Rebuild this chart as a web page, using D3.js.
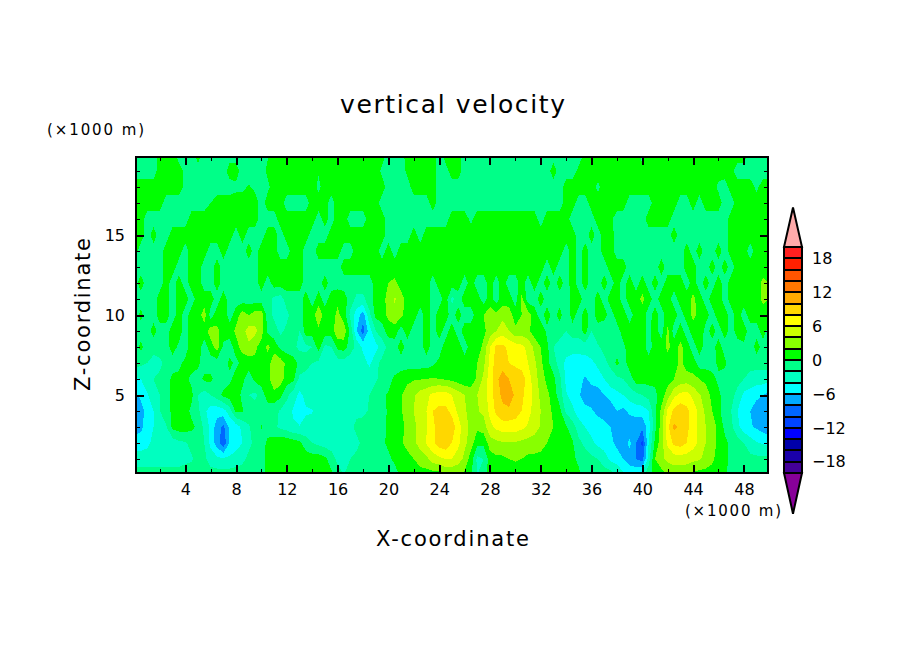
<!DOCTYPE html>
<html>
<head>
<meta charset="utf-8">
<title>vertical velocity</title>
<script src="https://cdnjs.cloudflare.com/ajax/libs/d3/7.8.5/d3.min.js"></script>
<style>
    body { margin: 0; background: #fff; }
    text { font-family: "DejaVu Sans", sans-serif; fill: #000; }
</style>
</head>
<body>
<svg id="chart" width="904" height="654"></svg>
<script>
// grid positions in km
var xKm = d3.range(0, 50.5, 0.5);
var zKm = d3.range(0, 21);

// contour levels and fill colours, one colour per band, lowest band first
var levels = [-20,-18,-16,-14,-12,-10,-8,-6,-4,-2,0,2,4,6,8,10,12,14,16,18,20];
var bandColors = ['#880099','#440099','#1a00aa','#0000aa','#0000ff','#0044ff','#0066ff','#00aaff','#00ffff','#00ffc0','#00ff88',
    '#00ff00','#88ff00','#ccff00','#ffff00','#ffd700','#ffaa00','#ff7700','#ff5500','#ff2000','#ff2020','#ffaaaa'];

var xMajor = [4,8,12,16,20,24,28,32,36,40,44,48];
var xMinor = [2,6,10,14,18,22,26,30,34,38,42,46];
var zMajor = [5,10,15];
var zMinor = [1,2,3,4,6,7,8,9,11,12,13,14,16,17,18,19];
var barLabels = [18,12,6,0,-6,-12,-18];

// w (m/s), one row per km of height, bottom row first.
// Each row has ten groups of 5 km at 0.5 km steps, then the value at x=50
var w = [
 [-1,-1,-1,-1,-1,-1,-1,-1,-1,-1, -1,-1,-1,-1,-1,-1,-1,-1,-1,-1, -1,0.5,1,1,1,1,1,1,1,1, 1,0.5,-1,-2,-1,-1,-1,-1,-1,-1, -1,-1,0.5,1,1,1,1,1,1,2, 2,2,1.5,0.5,-2,-1,1,1,1,1, 1,1,1,1,1,1,1,1,1,1, 0.5,-1,-1,-1,-1,-1,-2,-3.5,-4.5,-4, -3,-0.5,0.5,1,2,2.5,2.5,2,1.5,1, 1,1,1,0.5,-1,-1,-1,-1,-1,-1, -1],
 [-3,-3,-3,-3,-3,-3,-3,-3,-2.5,-2.2, -1.5,-1.5,-3,-3.5,-3.8,-3.5,-3,-2.5,-1.5,-1, -0.5,0.5,1,1,1,1,1,1,1,1, 0.5,-1,-2.5,-2.5,-2,-1.5,-1,-1,-1,-1, -0.5,0.5,1,1.5,2,3,3.5,5,5.5,6, 6,5,3.5,1,-2.5,-2,1,1.5,1.5,2, 2.2,2,1.5,1.5,1.5,1.5,1,1,1,0.5, -0.5,-1,-1.5,-2,-3,-4.5,-5,-6,-7,-8, -9,-3,2,3.5,4.5,5,5,5,4.5,4.2, 3.5,2.5,1,0.5,-0.5,-1,-1,-1.5,-1.5,-1.5, -1.5],
 [-5,-5,-4.5,-3.5,-3,-3,-3,-2.5,-2.2,-1.5, -1,-2,-4.5,-7,-9.5,-5.8,-5,-4,-2.5,-1.5, -1,0.5,1,1.5,1.5,1,0.5,-1,-2,-2.5, -3,-3,-3,-3.5,-3.5,-2.5,-1.5,-1.2,-1,-0.5, 0.5,1.2,1.8,2.5,3.5,4.8,6.2,7.5,9,9.5, 8,6.5,4.5,3,0.5,0.5,3,3.5,3.8,3.8, 3.8,3.5,3.2,3,2.6,2,1,0.8,0.5,0.2, -1.5,-2.5,-3.5,-4.5,-5,-5.5,-6.5,-7,-5.5,-8, -10.5,-4,0.5,3.2,6.5,8.5,9,8,7,5.5, 4,3,1.5,0.5,-0.5,-1,-2,-3,-3.8,-4.2, -4.5],
 [-7,-6.5,-5,-4,-3,-2.2,0.5,1,1,0.5, -0.5,-2.5,-4.5,-7,-8.5,-5.5,-5,-3.5,-2.2,-1.2, 0.2,-1,-1.5,-2.5,-3,-3.8,-3.9,-3.5,-3.5,-3, -3,-3,-3,-3,-2.5,-1.5,-1.2,-1.2,-1,-0.6, 0.3,0.8,1.5,2.5,3.5,4.8,5.8,7.5,9,9.9, 9,7,4.8,3.5,2.5,3,5.5,6.5,7,7, 7,6.5,5.8,5,3.8,3,2,0.5,0.2,-1, -3,-4,-4.8,-5,-5.2,-6,-7.5,-7.5,-7.5,-7.5, -7.5,-5,-0.5,3,7.5,10.5,9.5,8.5,7,5.5, 4,3,1.5,-0.5,-1.5,-3.5,-5,-5.8,-6.3,-7, -7.5],
 [-7.5,-7,-5,-4,-2,-1,0.5,1.2,0.8,-0.5, -1.5,-3.5,-5,-5.2,-4.8,-3,0.5,0.2,-1,-1, -1,-1,-1.5,-2.2,-3,-4.2,-5,-4.2,-4.1,-3, -3,-3,-3,-3,-2.8,-2.5,-2.5,-1.8,-1,-0.5, 0.2,1,1.8,3,4,5,6,8,8.5,8.5, 7.5,5.5,4.2,3.5,3.8,4.5,6.5,8.5,9.5,9.5, 9,8,6.5,5.5,4,3,1.5,0.5,-2.5,-3.5, -5,-5.5,-5.8,-6.5,-7.2,-7.5,-6,-6.5,-5.5,-5, -5,-4,-0.5,2.5,6.5,8.5,9.5,8.5,7,5.5, 3.5,2,0.5,-1,-2,-4,-5,-6,-7,-7.5, -7.5],
 [-6.5,-5.5,-4.2,-3,-2,-1,0.5,1,1,0.5, -2,-3,-2,-1,0.5,1,1,-0.5,-2,-2.5, -1,1,1.5,0.5,-1.5,-3,-4.5,-3.5,-3,-3, -3,-3,-3,-3,-3,-3,-3,-2,-1.2,-0.5, 0.3,1,1.8,3,3.8,4.8,5.5,6.5,7,7, 6,5,4,3.5,4,5,7,9,10.5,11.5, 9.5,8.5,7,5.5,3.5,2.5,1,-1,-3.8,-4.8, -5.8,-6.8,-6.8,-7,-6,-5,-4.5,-4,-3,-2.5, -2,-1.2,-0.5,1,3,5.5,6.5,6.8,5.5,4.2, 3,1.5,0.5,-1,-1.5,-2.5,-4.5,-5,-5.5,-6, -6.5],
 [-4.5,-4,-3,-2,-1.5,-1,0.5,0.5,0.5,-0.5, -1,0.5,0.5,-1,-1,-0.5,1,0.5,-1,0.5, 1,1.5,3.2,3,1,0.5,-2.5,-3,-3,-3, -3,-3,-3,-3,-3,-3,-3,-2.5,-2.2,-1.5, -1,0.5,1,1.5,1.8,1.9,2,2.2,2,1.8, 1.5,1,0.5,0.5,2.5,4.5,7,9.5,11,10, 9.5,9.2,7,5,3,1.5,0.5,-1.5,-4.5,-5, -5.5,-6.2,-5.5,-5,-4,-3,-2.5,-2,-1,1, 0.8,0.8,0.5,0.8,1.2,2,2.8,3,2.5,2, 1.5,0.8,-0.5,-1,-1.2,-1.5,-2,-2.5,-3,-3, -3.5],
 [-1,-1.5,-2,-2.5,-2.5,-1.2,-1,-0.5,0.5,1, 0.5,-1,-1,-1,-1,0.5,-0.5,0.5,1,1.5, 1.5,1,3.5,3,1.5,1,-0.5,-1,-2,-2.5, -2.5,-3,-3,-3,-3.2,-3.5,-3,-4.5,-2.5,-1.5, -1,-1.5,-1,-1,-1,-1,-1,-0.5,0.5,1, 1,1,1,1.5,2,3.5,6.5,9,9,8, 7.5,7,6,4.5,2.5,0.5,-1,-3,-4.5,-5, -5.2,-5,-4.5,-3.5,-2.5,-1.5,0.5,-1,1,1, 1,1,1.5,1,1,1,2.5,1,1,-1, -1,-1,0.5,0.5,-1.5,-1.5,-2,-1.5,-1.2,-1.2, -1],
 [-1,0.5,-1,-1.5,-1,-1,1,-0.5,-1,1, 1,-1,1,3,-0.5,-1,1,3,3.5,2.5, 1,2.5,1,-0.5,-1,-1.5,-2.5,-2.5,-2,1, -2.5,-2,0.5,1,-1,-2.5,-4.5,-4.6,-4.8,-3, -1.5,-1,1,-1,-1,-1,1,-1,-1,1, 1,1,-1,1,1,2.5,6,8.5,8.5,7.5, 7,6.5,5.5,3.5,2,0.5,-2,-2.5,-3,-3.2, -3,-3,-2.5,-2.2,-1.5,-1,-1,-0.5,1,1, 1,-1,1,1,2.5,1,2.5,1,-1,1, -1,-1,1,-1,-1,-1,-0.5,-1.5,1,-1, -1],
 [1,-1,-1,1,-1,-1,1,1,-1,1, 1.5,1,3,2.5,1,1,2.5,3.2,5,4.5, 3,-0.5,-1,-2.5,-1.5,-1,-2,1,1,1.5, 1,1,3.5,3.2,-0.5,-6,-9,-5,-2,-1, 1,1,-1,1,-1,-1,1,-1,1,-1, 1,-1,1,1,1,1.5,3,4,5,4, 2.5,3,2.5,1,1.5,-0.5,-1,-1.5,-2,-1, -1.2,1,-2,-1,-2,-1,-1,1,1,1, 1,-0.5,1,-1,2.5,-1,1,-1,1,2, -1,1,-1,1,-1,1,1,-1,-1,1, -1],
 [-1,0.5,-1,-1,1,1,-1,1,-1,1, 1,3,-1,1,1.5,-1,1,3,2,3, 3.2,-1,-2.5,-4,-2.5,-1,-1,1,1,3.5, 1,1,2.5,1,-2.5,-5,-7,-2.5,0.5,1, 2.5,3.5,2.5,1,1,-1,1,-1,1,1, -1,1,-1,-1,1,2,3,2.5,3.5,3, 1,2,3,1,-1,1,-1,1,-2,1, -1,1,-1,1,1,-1,1,1,-1,1, 1,-1,1,-1,1,1,-1,1,2.5,1.5, 1,-1,1,1,-1,1,-1,1,1,1, 1],
 [-1,-1,-1,-1,1,1,-1,1,1,-1, 1,1,1,-1,1,-1,-1,-1,-1,-1, -1,-1,-2.5,-3,-1,-1,-1,1,-1,1, -1,1,1.5,1,-1,-2.5,-2.5,-1,1,1, 3,4.2,3,1,1,1,1,-1,-1,1, -2.5,-1,1,1,1,-1,1,-1,1,1, -1,2.5,-1,-1,1,-1,-1,-1,-2,1, 1,-1,-1,1,-1,1,1,-1,1,1, 2.5,1,-1,1,1,-1,1,1,2.5,1, -1,1,1,-1,1,1,1,1,1,2.5, 2],
 [-1,1,-1,-1,-1,1,-1,1,-1,1, 1,-1,-1,1,-1,-1,-1,-1,-1,-1, 1,-1,1,1,1,1,1,-1,-1,-1, 1,-1,-1,-1,-1,-1,-1,-1,1,1, 2,2.5,1,2,1,1,1,-1,1,1, 1,1,-1,1,-1,-1,1,-1,1,-1, -1,1,-1,1,-1,1,-1,1,-1,1, -1,1,-1,-1,1,-1,1,-1,1,-1, 1,-1,1,-1,1,1,1,-1,1,-1, 1,-1,1,-1,1,1,2,1,1,2.5, 2],
 [-1,-1,-1,-1,-1,1,1,-1,-1,1, 1,-1,-1,1,-1,-1,-1,-1,-1,-1, 1,1,1,1,1,1,1,-1,-1,-1, -1,-1,-1,1,1,1,1,1,2,1, 1,1,1,1,1,1,1,1,1,1, 1,1,1,1,1,1,1,1,1,1, 1,1,1,1,1,-1,1,-1,-1,1, -1,1,-1,-1,-1,1,1,1,-1,-1, -1,-1,-1,1,-1,-1,-1,1,1,-1, -1,1,-1,1,-1,1,1,1,1,1, 1],
 [1,-1,-1,-1,-1,1,1,1,-1,1, 1,1,-1,-1,1,-1,-1,-1,1,-1, 1,1,1,-1,-1,1,1,-1,-1,1, 1,1,1,-1,-1,1,1,1,1,-1, 1,-1,1,1,1,1,1,1,1,1, 1,1,1,1,1,1,1,1,1,1, 1,1,1,1,1,1,1,1,-1,1, -1,1,-1,-1,1,1,-1,-1,-1,-1, -1,-1,-1,-1,-1,-1,-1,1,-1,1, -1,-1,1,-1,1,1,1,-1,1,1, 1],
 [1,1,-1,1,-1,-1,1,1,1,1, 1,1,1,1,1,1,-1,1,-1,-1, -1,1,1,-1,1,1,1,1,-1,-1, -1,1,1,1,1,1,1,1,1,1, -1,-1,-1,-1,1,-1,1,1,1,1, 1,1,1,1,1,1,1,1,1,1, 1,1,1,1,1,1,1,1,1,1, -1,-1,1,-1,1,1,-1,-1,-1,-1, -1,-1,-1,-1,-1,1,-1,-1,-1,-1, -1,-1,-1,-1,1,1,1,1,1,1, 1],
 [1,1,-1,-1,-1,-1,-1,-1,-1,1, 1,1,1,1,1,1,1,1,1,1, -1,-1,-1,1,1,1,1,1,1,-1, 1,-1,1,1,-1,-1,-1,1,1,1, -1,-1,-1,-1,-1,-1,-1,-1,-1,-1, 1,1,1,-0.5,1,1,1,1,1,1, 1,1,1,1,-1,1,1,1,1,-1, -1,-1,-1,1,1,0.5,-1,-1,-1,-1, -1,1,1,1,1,-1,-1,-1,-1,-1, -1,-1,-1,-1,1,1,1,1,1,1, 1],
 [1,1,1,1,1,-1,-1,-1,-1,-1, -1,-1,0,1,1,1,1,1,1,1, -1,1,1,1,-1,-1,-1,-1,1,1, 1,-1,1,1,1,1,1,1,1,-1, -1,-1,-1,-1,-1,-1,-1,1,-1,-1, -1,-1,-1,-1,-1,-1,-1,-1,-1,-1, -1,-1,-1,-1,-1,-1,-1,-1,1,1, -1,-1,1,1,1,1,1,1,-1,-1, -1,-1,1,1,1,1,-1,-1,1,-1, 1,1,1,-1,-1,1,1,1,1,1, 1],
 [1,1,1,1,1,1,1,1,-0.5,-1, -1,-1,-1,-1,-1,-1,-0.5,-0.5,0.2,-0.5, -0.5,-0.5,1,1,1,1,1,1,1,-0.5, 1,1,1,1,1,1,1,1,1,1, -1,-1,-1,-1,1,1,1,1,-1,-1, -1,-1,-1,-1,-1,-1,-1,-1,-1,-1, -1,-1,-1,-1,-1,-1,-1,-1,1,1, 1,1,1,-0.5,1,1,1,1,1,1, 1,1,1,1,1,1,1,1,1,1, 1,1,-0.5,-1,1,1,1,1,-0.5,1, 1],
 [-1,-1,-1,-1,1,1,1,1,-0.5,-1, -1,-1,-1,-1,-1,1,1,-1,-1,-1, -1,0.5,1,1,1,1,1,1,1,0.2, 1,1,1,1,1,1,1,1,1,-0.5, -0.5,-1,-1,0.5,1,1,1,1,-1,-1, 1,1,-1,-1,-1,-1,-1,-1,-1,-1, -1,-1,-1,-1,-1,-1,1,-1,-1,-1, 0.5,1,1,1,1,1,1,1,1,1, 1,1,1,1,1,1,1,1,1,1, 1,1,1,1,0.5,-1,-1,-1,-1,-1, -1],
 [-1,-1,-1,-1,1,1,1,-1,-1,-1, 1,-1,-1,-1,-1,-1,-1,-1,-1,-1, -1,-0.2,1,1,1,1,1,1,1,1, 1,1,1,1,1,1,1,1,1,1, -1,-1,-1,1,1,1,1,1,-1,1, 1,1,-1,-1,-1,-1,-1,-1,-1,-1, -1,-1,-1,-1,-1,-1,-1,-1,-1,-1, -1,0.5,1,1,1,1,1,1,1,1, -1,1,1,1,1,1,1,1,1,1, 1,1,1,1,1,1,1,-1,-1,-1, -1]
];

var svg = d3.select('#chart');
svg.append('rect').attr('width', 904).attr('height', 654).attr('fill', '#fff');

var margin = {left: 136, right: 768, top: 157, bottom: 473};
var xScale = d3.scaleLinear().domain([0.12, 49.9]).range([margin.left, margin.right]);
var zScale = d3.scaleLinear().domain([0.125, 19.875]).range([margin.bottom, margin.top]);

// band colour for a contour level: the band above it
var bandColor = d3.scaleThreshold().domain(levels).range(bandColors);

svg.append('clipPath').attr('id', 'plotClip').append('rect')
    .attr('x', margin.left).attr('y', margin.top)
    .attr('width', margin.right - margin.left).attr('height', margin.bottom - margin.top);

var flat = [];
zKm.slice().reverse().forEach(function(z) { flat = flat.concat(w[z]); });

var contours = d3.contours().size([xKm.length, zKm.length]).thresholds(levels)(flat);

//Grid cells from d3.contours are centred on half integers, and row 0 is the top one
var path = d3.geoPath(d3.geoTransform({
    point: function(gx, gy) {
        this.stream.point(xScale((gx - 0.5) * 0.5), zScale(zKm.length - 0.5 - gy));
    }
}));

var plot = svg.append('g').attr('clip-path', 'url(#plotClip)');
plot.append('rect')
    .attr('x', margin.left).attr('y', margin.top)
    .attr('width', margin.right - margin.left).attr('height', margin.bottom - margin.top)
    .attr('fill', bandColors[0]);
plot.selectAll('path')
    .data(contours)
    .enter().append('path')
    .attr('d', path)
    .attr('fill', function(d) { return bandColor(d.value); })
    .attr('shape-rendering', 'crispEdges');

function styleAxis(g, labelled) {
    g.select('.domain').remove();
    g.selectAll('line').attr('stroke', '#000');
    g.selectAll('text').style('font-size', labelled ? '16px' : '0px');
    g.attr('font-family', null).attr('font-size', null);
}

function drawTicks(axis, x, y, width, labelled) {
    var g = svg.append('g').attr('transform', 'translate(' + x + ',' + y + ')').call(axis);
    styleAxis(g, labelled);
    g.selectAll('line').attr('stroke-width', width).attr('shape-rendering', 'crispEdges');
}

var blank = function() { return ''; };

// NCAR style: ticks point into the plot on all four sides
drawTicks(d3.axisBottom(xScale).tickValues(xMajor).tickSize(-8).tickPadding(11).tickFormat(d3.format('d')), 0, margin.bottom, 2, true);
drawTicks(d3.axisBottom(xScale).tickValues(xMinor).tickSize(-4).tickFormat(blank), 0, margin.bottom, 1, false);
drawTicks(d3.axisTop(xScale).tickValues(xMajor).tickSize(-8).tickFormat(blank), 0, margin.top, 2, false);
drawTicks(d3.axisTop(xScale).tickValues(xMinor).tickSize(-4).tickFormat(blank), 0, margin.top, 1, false);
drawTicks(d3.axisLeft(zScale).tickValues(zMajor).tickSize(-8).tickPadding(11).tickFormat(d3.format('d')), margin.left, 0, 2, true);
drawTicks(d3.axisLeft(zScale).tickValues(zMinor).tickSize(-4).tickFormat(blank), margin.left, 0, 1, false);
drawTicks(d3.axisRight(zScale).tickValues(zMajor).tickSize(-8).tickFormat(blank), margin.right, 0, 2, false);
drawTicks(d3.axisRight(zScale).tickValues(zMinor).tickSize(-4).tickFormat(blank), margin.right, 0, 1, false);

svg.append('rect')
    .attr('x', margin.left).attr('y', margin.top)
    .attr('width', margin.right - margin.left).attr('height', margin.bottom - margin.top)
    .attr('fill', 'none').attr('stroke', '#000').attr('stroke-width', 2.5)
    .attr('shape-rendering', 'crispEdges');

// colour bar
var barLeft = 784, barRight = 802, barMid = 793;
var barScale = d3.scaleLinear().domain([-20, 20]).range([473, 247]);

svg.append('path')
    .attr('d', d3.line()([[barLeft, barScale(20)], [barMid, barScale(27)], [barRight, barScale(20)]]) + 'Z')
    .attr('fill', bandColors[21]).attr('stroke', '#000').attr('stroke-width', 2);
svg.append('path')
    .attr('d', d3.line()([[barLeft, barScale(-20)], [barMid, barScale(-27.2)], [barRight, barScale(-20)]]) + 'Z')
    .attr('fill', bandColors[0]).attr('stroke', '#000').attr('stroke-width', 2);

svg.selectAll('.bar')
    .data(levels.slice(0, -1))
    .enter().append('rect')
    .attr('class', 'bar')
    .attr('x', barLeft)
    .attr('width', barRight - barLeft)
    .attr('y', function(d) { return barScale(d + 2); })
    .attr('height', function(d) { return barScale(d) - barScale(d + 2); })
    .attr('fill', function(d) { return bandColor(d); })
    .attr('stroke', '#000').attr('stroke-width', 2)
    .attr('shape-rendering', 'crispEdges');

svg.selectAll('.barLabel')
    .data(barLabels)
    .enter().append('text')
    .attr('class', 'barLabel')
    .attr('x', 812)
    .attr('y', function(d) { return barScale(d); })
    .attr('dy', '0.36em')
    .style('font-size', '16px')
    .text(function(d) { return d3.format('d')(d); });

// titles
function label(text, x, y, size, width, anchor) {
    return svg.append('text')
        .attr('x', x).attr('y', y)
        .attr('text-anchor', anchor)
        .attr('textLength', width)
        .style('font-size', size + 'px')
        .text(text);
}

label('vertical velocity', 340, 113, 25, 225, 'start');
label('X-coordinate', 376, 546, 21, 153, 'start');
label('(×1000 m)', 47, 135, 15, 97, 'start');
label('(×1000 m)', 685, 516, 15, 96, 'start');
label('Z-coordinate', 0, 0, 21, 153, 'start')
    .attr('transform', 'translate(90,391) rotate(-90)');
</script>
</body>
</html>
